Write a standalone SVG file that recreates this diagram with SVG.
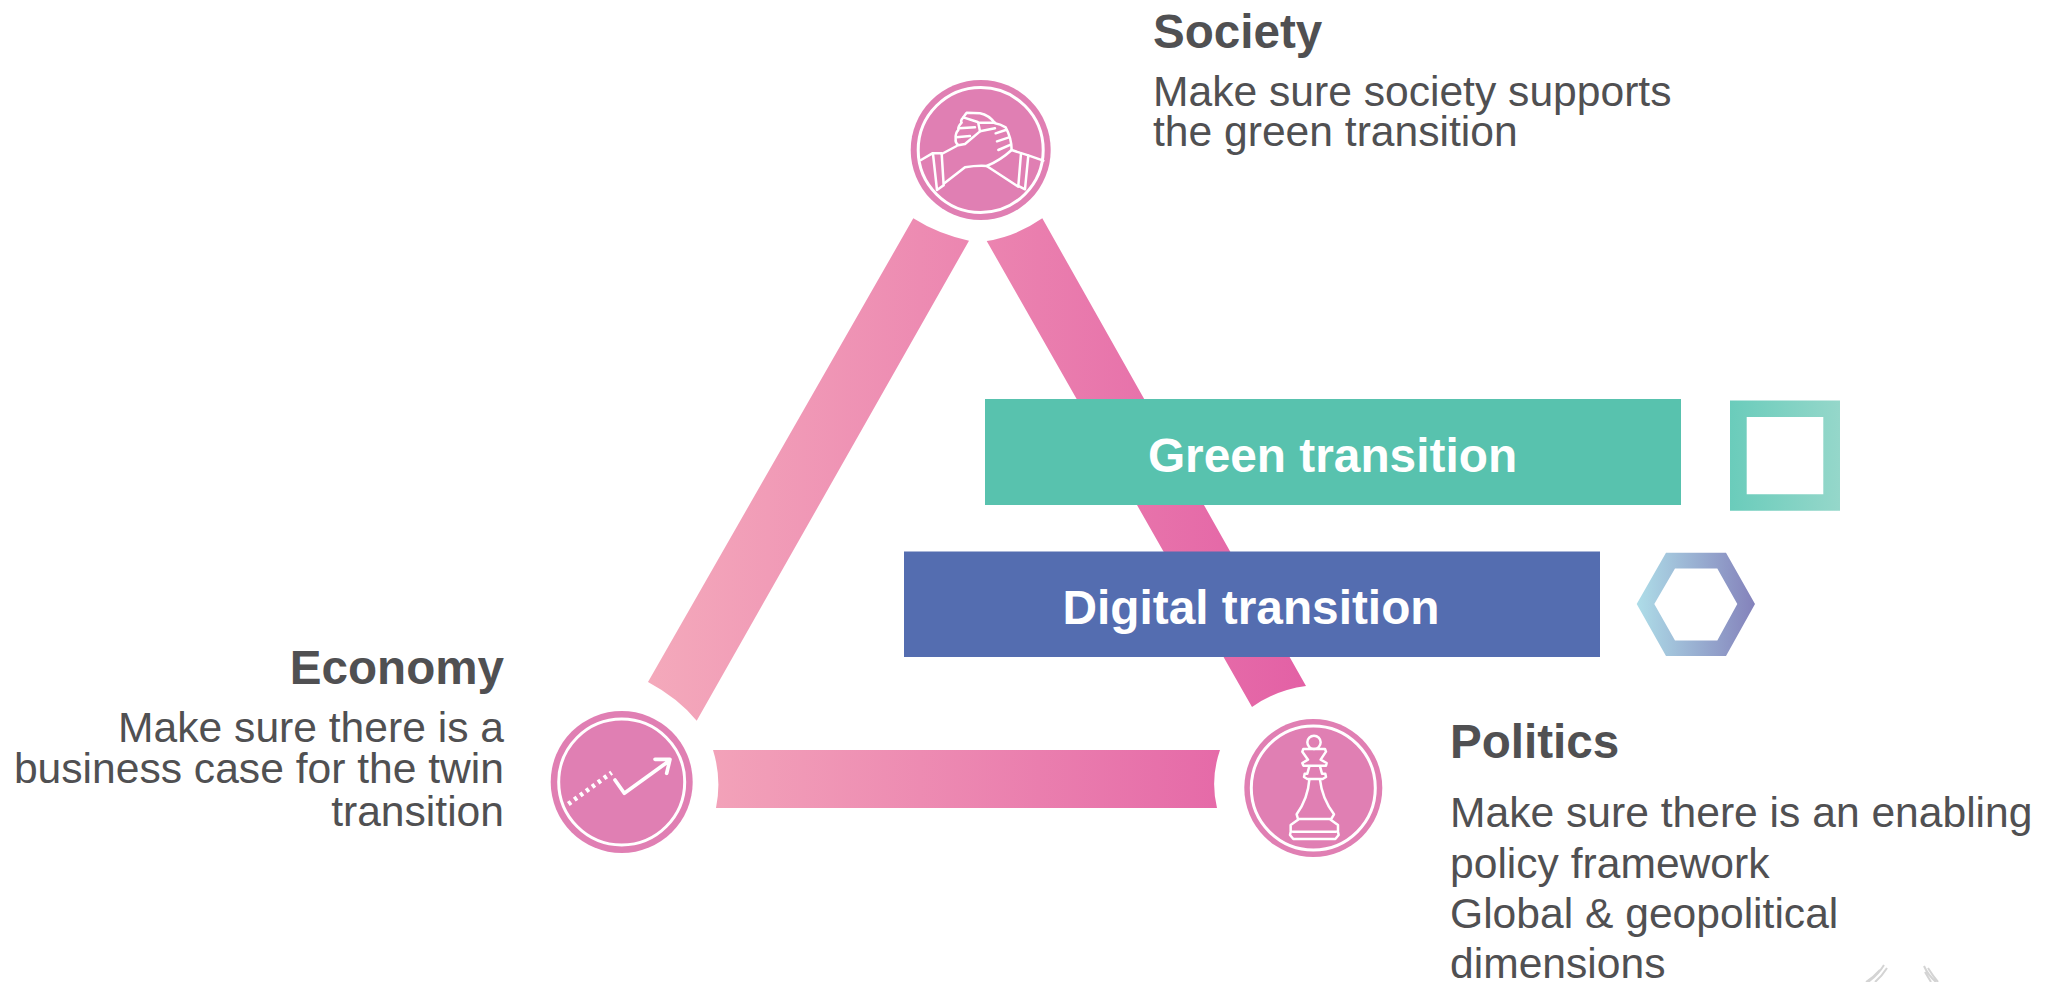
<svg xmlns="http://www.w3.org/2000/svg" width="2052" height="982" viewBox="0 0 2052 982">
<style>
text{font-family:"Liberation Sans",Arial,sans-serif;fill:#505052}
.h{font-size:47.6px;font-weight:700}
.b{font-size:42.6px}
.r{text-anchor:end}
.w{fill:#fff;font-size:47.8px;font-weight:700;text-anchor:middle}
.disc{fill:#e07fb3}
.ring{fill:none;stroke:#fff;stroke-width:3}
.ic{fill:none;stroke:#fff;stroke-width:7.500;stroke-linejoin:round;stroke-linecap:round}
</style>
<defs>
<linearGradient id="tri" gradientUnits="userSpaceOnUse" x1="650" y1="0" x2="1310" y2="0"><stop offset="0" stop-color="#f4a9bb"/><stop offset="1" stop-color="#e360a5"/></linearGradient>
<linearGradient id="sq"><stop offset="0" stop-color="#6accbb"/><stop offset="1" stop-color="#95d7ca"/></linearGradient>
<linearGradient id="hx"><stop offset="0" stop-color="#aedde8"/><stop offset="1" stop-color="#8482bb"/></linearGradient>
</defs>
<g id="connectors">
<path fill="url(#tri)" d="M913.300 218.300 Q938 234 969 240.700 L696.700 720.700 Q678 698 648 682 Z"/>
<path fill="url(#tri)" d="M986.700 241 Q1017 236 1042.300 218.300 L1306 686 Q1276 690 1252 707 Z"/>
<path fill="url(#tri)" d="M713 750 H1220 Q1210 779 1217 808 H716 Q722 779 713 750 Z"/>
</g>
<g id="society">
<circle class="disc" cx="980.700" cy="150" r="70"/>
<circle class="ring" cx="980.700" cy="150" r="62.500"/>
<g transform="translate(915 100) scale(.3333)" class="ic">
<path d="M18 180 L52 160 L80 160 L86 256 L66 270 L54 162"/>
<path d="M80 162 L125 138"/>
<path d="M88 250 L150 202 Q185 196 215 198 Q255 182 290 150 Q290 115 272 82 Q255 72 240 70 Q222 45 195 40 L155 38 Q146 50 145 52 Q135 62 140 68 Q128 80 130 90 Q120 100 122 118 Q120 128 130 136 L150 132 Q170 115 195 94 L240 85"/>
<path d="M145 52 L188 66 M132 85 L180 82 M124 112 L165 108 M190 68 H240 M190 70 L195 94"/>
<path d="M242 100 L272 90 M246 124 L282 112 M250 150 L287 134"/>
<path d="M215 198 L310 260 M290 150 L314 158 L340 166 L330 268 L310 258 L318 160 M340 166 L385 182"/>
</g>
</g>
<g id="economy">
<circle class="disc" cx="621.700" cy="782" r="71"/>
<circle class="ring" cx="621.700" cy="782" r="63"/>
<g transform="translate(530 690) scale(.3333)" class="ic" style="stroke-width:11">
<path d="M115 342 L245 248" stroke-dasharray="10 12" style="stroke-linecap:butt;stroke-width:14"/>
<path d="M255 270 L283 310 L418 212 M375 208 L420 208 L410 250"/>
</g>
</g>
<g id="politics">
<circle class="disc" cx="1313.300" cy="788" r="69"/>
<circle class="ring" cx="1313.300" cy="788" r="62"/>
<g transform="translate(1270 725) scale(.3333)" class="ic">
<circle cx="132" cy="52" r="20"/>
<path d="M100 72 H165 L168 80 L152 104 L170 114 L168 122 H100 L97 114 L114 104 L97 80 Z"/>
<path d="M118 124 L112 146 H104 L102 156 L112 162 H158 L168 156 L166 146 H156 L150 124"/>
<path d="M118 164 Q114 220 80 268 L84 282 H184 L192 268 Q156 220 150 164"/>
<path d="M84 284 L62 300 V318 L68 320 H198 L204 318 V300 L182 284 M62 320 L60 330 L70 342 H196 L206 330 L204 320"/>
</g>
</g>
<g id="green-transition">
<rect x="985" y="399" width="696" height="106" fill="#58c2ae"/>
<text class="w" x="1332.500" y="472">Green transition</text>
</g>
<g id="digital-transition">
<rect x="904" y="551.500" width="696" height="105.500" fill="#546db0"/>
<text class="w" x="1251" y="623.500">Digital transition</text>
</g>
<g id="square-icon">
<path fill="url(#sq)" fill-rule="evenodd" d="M1730 400.500 H1840 V510.700 H1730 Z M1746.700 417 V494.300 H1823.300 V417 Z"/>
</g>
<g id="hexagon-icon">
<path fill="url(#hx)" fill-rule="evenodd" d="M1636.700 604 L1666 552.800 H1726 L1755 604 L1726 656 H1666 Z M1654.300 604 L1675 640.500 H1717.300 L1737.300 604 L1717.300 568.500 H1675 Z"/>
</g>
<g id="society-text">
<text class="h" x="1153" y="47.500">Society</text>
<text class="b" x="1153" y="106">Make sure society supports</text>
<text class="b" x="1153" y="145.500">the green transition</text>
</g>
<g id="economy-text">
<text class="h r" x="504" y="684">Economy</text>
<text class="b r" x="504" y="742">Make sure there is a</text>
<text class="b r" x="504" y="783">business case for the twin</text>
<text class="b r" x="504" y="826">transition</text>
</g>
<g id="politics-text">
<text class="h" x="1450" y="757.500">Politics</text>
<text class="b" x="1450" y="827">Make sure there is an enabling</text>
<text class="b" x="1450" y="878">policy framework</text>
<text class="b" x="1450" y="928">Global &amp; geopolitical</text>
<text class="b" x="1450" y="978">dimensions</text>
</g>
<g id="corner-mark" fill="none" stroke="#d4d4d4" stroke-width="2">
<path d="M1884 965 Q1878 975 1868 982 M1880 970 Q1874 977 1866 982 M1887 968 Q1882 976 1875 982"/>
<path d="M1924 966 Q1928 975 1936 982 M1925 972 L1931 982 M1928 968 Q1933 976 1938 982"/>
</g>
</svg>
